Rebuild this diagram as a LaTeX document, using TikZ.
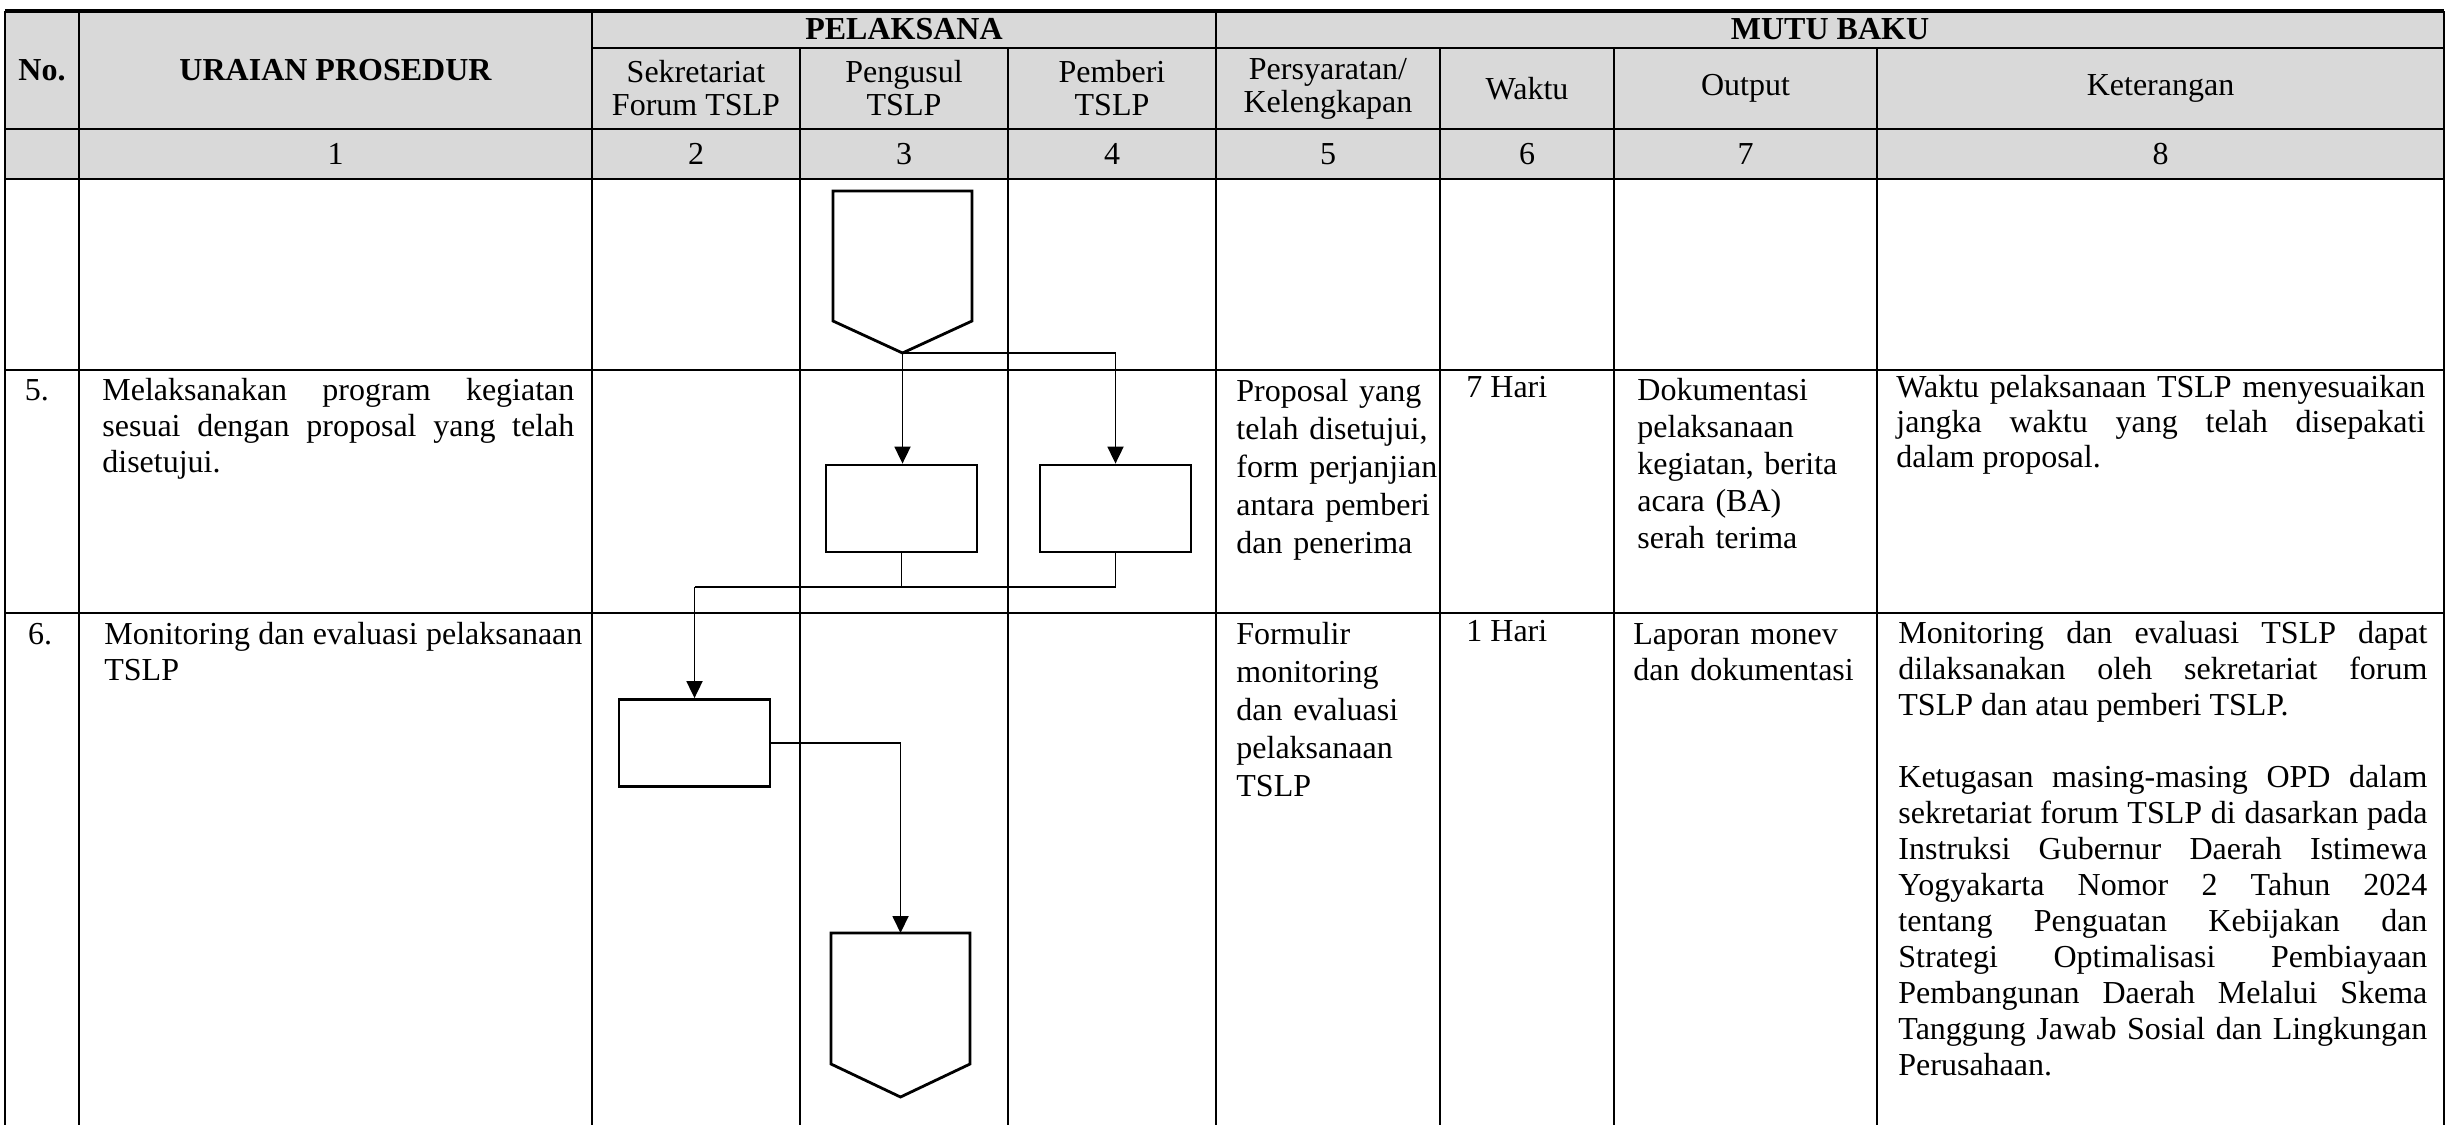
\documentclass[tikz,border=0pt]{standalone}
\usepackage{fontspec}
\setmainfont{Liberation Serif}
\usetikzlibrary{arrows.meta}
\definecolor{hdrgray}{HTML}{D9D9D9}
\tolerance=10000
\hbadness=10000
\hyphenpenalty=10000
\exhyphenpenalty=10000
\begin{document}
\begin{tikzpicture}[x=0.5pt, y=-0.5pt,
  gridline/.style={line width=0.9pt},
  shpline/.style={line width=1.4pt, line join=miter},
  shp/.style={draw, line width=1.4pt, minimum width=75.5pt, minimum height=43.5pt, inner sep=0pt},
  conn/.style={line width=0.9pt},
  arr/.style={conn, -{Triangle[length=8.5pt,width=8pt]}},
  hdr/.style={font=\fontsize{16pt}{16.5pt}\selectfont, align=center, inner sep=0pt},
  hdrb/.style={hdr, font=\fontsize{16pt}{16.5pt}\selectfont\bfseries},
  body/.style={font=\fontsize{16pt}{18pt}\selectfont, inner sep=0pt, anchor=base west},
  bodyj/.style={body, align=justify},
  bodyl/.style={body, align=left}
]
\useasboundingbox (0,0) rectangle (2450,1125);
% header background
\fill[hdrgray] (5,11) rectangle (2444,179);
% horizontal rules
\draw[line width=1.6pt] (5,11) -- (2444,11);
\draw[gridline] (592,48) -- (2444,48);
\draw[gridline] (5,129) -- (2444,129);
\draw[gridline] (5,179) -- (2444,179);
\draw[gridline] (5,370) -- (2444,370);
\draw[gridline] (5,613) -- (2444,613);
% vertical rules
\foreach \xx in {5,79,592,1216,2444} \draw[gridline] (\xx,11) -- (\xx,1125);
\foreach \xx in {800,1440,1614,1877} \draw[gridline] (\xx,48) -- (\xx,1125);
\draw[line width=1.3pt] (1008,48) -- (1008,1125);

% header texts
\node[hdrb] (hno) at (42,70) {No.};
\node[hdrb] (hur) at (335.5,70) {URAIAN PROSEDUR};
\node[hdrb] (hpel) at (904,29.5) {PELAKSANA};
\node[hdrb] (hmb) at (1830,29.5) {MUTU BAKU};
\node[hdr] (hsek) at (696,88.5) {Sekretariat\\Forum TSLP};
\node[hdr] (hpen) at (904,88.5) {Pengusul\\TSLP};
\node[hdr] (hpem) at (1112,88.5) {Pemberi\\TSLP};
\node[hdr] (hper) at (1328,88.5) {Persyaratan/\\Kelengkapan};
\node[hdr] (hwak) at (1527,88.5) {Waktu};
\node[hdr] (hout) at (1745.5,88.5) {Output};
\node[hdr] (hket) at (2160.5,88.5) {Keterangan};
% number row
\node[hdr] (n1) at (335.5,154) {1};
\node[hdr] (n2) at (696,154) {2};
\node[hdr] (n3) at (904,154) {3};
\node[hdr] (n4) at (1112,154) {4};
\node[hdr] (n5) at (1328,154) {5};
\node[hdr] (n6) at (1527,154) {6};
\node[hdr] (n7) at (1745.5,154) {7};
\node[hdr] (n8) at (2160.5,154) {8};

% row 5 texts
\node[body, anchor=base] (no5) at (37,400) {5.};
\node[bodyj, text width=236pt] (u5) at (102,400) {Melaksanakan program kegiatan\linebreak sesuai dengan proposal yang telah\linebreak disetujui.};
\node[bodyl, text width=125pt, font=\fontsize{16pt}{19pt}\selectfont] (s5) at (1236,401) {Proposal yang\\telah disetujui,\\form perjanjian\\antara pemberi\\dan penerima};
\node[body] (w5) at (1466,397) {7 Hari};
\node[bodyl, text width=125pt, font=\fontsize{16pt}{18.5pt}\selectfont] (o5) at (1637,400) {Dokumentasi\\pelaksanaan\\kegiatan, berita\\acara (BA)\\serah terima};
\node[bodyj, text width=264.5pt, font=\fontsize{16pt}{17.5pt}\selectfont] (k5) at (1896,397) {Waktu pelaksanaan TSLP menyesuaikan\linebreak jangka waktu yang telah disepakati\linebreak dalam proposal.};

% row 6 texts
\node[body, anchor=base] (no6) at (40,644) {6.};
\node[bodyj, text width=239pt] (u6) at (104,644) {Monitoring dan evaluasi pelaksanaan\linebreak TSLP};
\node[bodyl, text width=125pt, font=\fontsize{16pt}{19pt}\selectfont] (s6) at (1236,644) {Formulir\\monitoring\\dan evaluasi\\pelaksanaan\\TSLP};
\node[body] (w6) at (1466,641) {1 Hari};
\node[bodyl, text width=125pt] (o6) at (1633,644) {Laporan monev\\dan dokumentasi};
\node[bodyj, text width=264.5pt] (k6) at (1898,643) {Monitoring dan evaluasi TSLP dapat\linebreak dilaksanakan oleh sekretariat forum\linebreak TSLP dan atau pemberi TSLP.\par\vspace{18pt}Ketugasan masing-masing OPD dalam\linebreak sekretariat forum TSLP di dasarkan pada\linebreak Instruksi Gubernur Daerah Istimewa\linebreak Yogyakarta Nomor 2 Tahun 2024\linebreak tentang Penguatan Kebijakan dan\linebreak Strategi Optimalisasi Pembiayaan\linebreak Pembangunan Daerah Melalui Skema\linebreak Tanggung Jawab Sosial dan Lingkungan\linebreak Perusahaan.};

% flowchart shapes
\draw[shpline] (833,191) -- (972,191) -- (972,321) -- (902.5,353) -- (833,321) -- cycle;
\coordinate (p1) at (902.5,353);
\node[shp] (b1) at (901.5,508.5) {};
\node[shp] (b2) at (1115.5,508.5) {};
\node[shp] (b3) at (694.5,743) {};
\draw[shpline] (831,933) -- (970,933) -- (970,1064) -- (900.5,1097) -- (831,1064) -- cycle;
\coordinate (p2) at (900.5,933);

% connectors
\draw[arr] (p1) -- (p1 |- b1.north);
\draw[arr] (p1) -| (b2.north);
\coordinate (j) at (694.5,587);
\draw[conn] (b1.south) -- (b1.south |- j);
\draw[conn] (b2.south) |- (j);
\draw[arr] (j) -- (b3.north);
\draw[arr] (b3.east) -| (p2);
\end{tikzpicture}
\end{document}
